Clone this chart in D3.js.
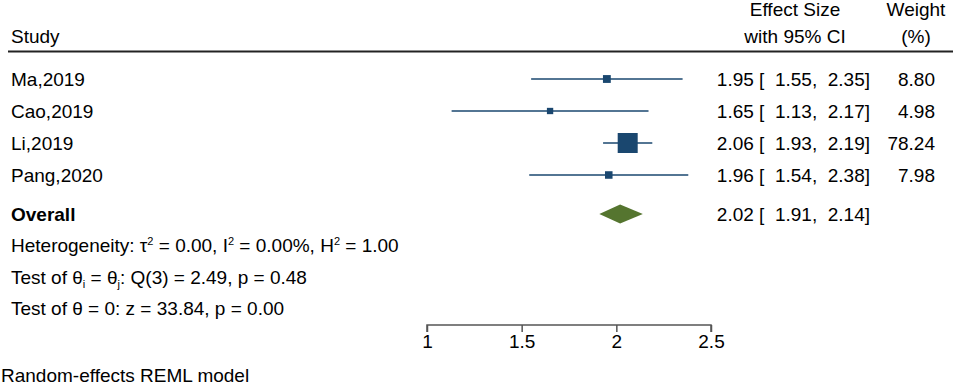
<!DOCTYPE html>
<html>
<head>
<meta charset="utf-8">
<script src="https://d3js.org/d3.v7.min.js"></script>
<style>
  body { margin: 0; background: #fff; }
  svg { font-family: Arial, "Liberation Sans", sans-serif; }
  text { white-space: pre; }
</style>
</head>
<body>
<div id="chart"></div>
<script>
const studies = ["Ma,2019", "Cao,2019", "Li,2019", "Pang,2020"]
const effect = [1.95, 1.65, 2.06, 1.96]
const lower = [1.55, 1.13, 1.93, 1.54]
const upper = [2.35, 2.17, 2.19, 2.38]
const weight = [8.80, 4.98, 78.24, 7.98]
const overall = [2.02, 1.91, 2.14]
const ticks = [1, 1.5, 2, 2.5]

const width = 957, height = 386
const fs = 19
const navy = "#1a476f", green = "#55752f"

const svg = d3.select("#chart").append("svg")
    .attr("width", width)
    .attr("height", height)

const x = d3.scaleLinear().domain([1, 2.5]).range([427, 711])
const y = d3.scaleLinear().domain([0, studies.length - 1]).range([79, 175])
const size = d3.scaleSqrt().domain([0, d3.max(weight)]).range([1.7, 20])
const yOverall = 214

// header
const head = svg.append("g").attr("font-size", fs)
head.append("text").attr("x", 11).attr("y", 43).text("Study")
head.append("text").attr("x", 795).attr("y", 16).attr("text-anchor", "middle").text("Effect Size")
head.append("text").attr("x", 795).attr("y", 43).attr("text-anchor", "middle").text("with 95% CI")
head.append("text").attr("x", 916).attr("y", 16).attr("text-anchor", "middle").text("Weight")
head.append("text").attr("x", 916).attr("y", 43).attr("text-anchor", "middle").text("(%)")
svg.append("line")
    .attr("x1", 8).attr("x2", 953).attr("y1", 51.5).attr("y2", 51.5)
    .attr("stroke", "#222").attr("stroke-width", 2)

const rows = svg.selectAll("g.row")
    .data(studies)
    .enter()
    .append("g")
        .attr("class", "row")
        .attr("transform", (d, i) => `translate(0,${y(i)})`)

rows.append("text")
    .attr("x", 11).attr("dy", "0.36em")
    .attr("font-size", fs)
    .text(d => d)

rows.append("line")
    .attr("x1", (d, i) => x(lower[i]))
    .attr("x2", (d, i) => x(upper[i]))
    .attr("stroke", navy).attr("stroke-width", 1.6)

rows.append("rect")
    .attr("x", (d, i) => x(effect[i]) - size(weight[i]) / 2)
    .attr("y", (d, i) => -size(weight[i]) / 2)
    .attr("width", (d, i) => size(weight[i]))
    .attr("height", (d, i) => size(weight[i]))
    .attr("fill", navy)

const fmt = d3.format(".2f")
rows.append("text")
    .attr("x", 870).attr("dy", "0.36em")
    .attr("text-anchor", "end")
    .attr("font-size", fs)
    .text((d, i) => `${fmt(effect[i])} [  ${fmt(lower[i])},  ${fmt(upper[i])}]`)

rows.append("text")
    .attr("x", 935).attr("dy", "0.36em")
    .attr("text-anchor", "end")
    .attr("font-size", fs)
    .text((d, i) => fmt(weight[i]))

// overall
const ov = svg.append("g").attr("transform", `translate(0,${yOverall})`)
ov.append("text")
    .attr("x", 11).attr("dy", "0.36em")
    .attr("font-size", fs).attr("font-weight", "bold")
    .text("Overall")
ov.append("path")
    .attr("d", `M${x(overall[1])},0 L${x(overall[0])},-9.5 L${x(overall[2])},0 L${x(overall[0])},9.5 Z`)
    .attr("fill", green)
ov.append("text")
    .attr("x", 870).attr("dy", "0.36em")
    .attr("text-anchor", "end")
    .attr("font-size", fs)
    .text(`${fmt(overall[0])} [  ${fmt(overall[1])},  ${fmt(overall[2])}]`)

// heterogeneity lines
const notes = svg.append("g").attr("font-size", fs)
const t1 = notes.append("text").attr("x", 11).attr("y", 252)
t1.append("tspan").text("Heterogeneity: τ")
t1.append("tspan").attr("font-size", 11).attr("dy", -7).text("2")
t1.append("tspan").attr("dy", 7).text(" = 0.00, I")
t1.append("tspan").attr("font-size", 11).attr("dy", -7).text("2")
t1.append("tspan").attr("dy", 7).text(" = 0.00%, H")
t1.append("tspan").attr("font-size", 11).attr("dy", -7).text("2")
t1.append("tspan").attr("dy", 7).text(" = 1.00")

const t2 = notes.append("text").attr("x", 11).attr("y", 284)
t2.append("tspan").text("Test of θ")
t2.append("tspan").attr("font-size", 11).attr("dy", 4).text("i")
t2.append("tspan").attr("dy", -4).text(" = θ")
t2.append("tspan").attr("font-size", 11).attr("dy", 4).text("j")
t2.append("tspan").attr("dy", -4).text(": Q(3) = 2.49, p = 0.48")

notes.append("text").attr("x", 11).attr("y", 315).text("Test of θ = 0: z = 33.84, p = 0.00")

// axis
const axis = svg.append("g")
    .attr("transform", "translate(0,325)")
    .call(d3.axisBottom(x).tickValues(ticks).tickSize(7).tickFormat(d3.format("")))
axis.select(".domain").attr("stroke", "#555").attr("stroke-width", 1.5)
    .attr("d", `M${x(1)},7V0H${x(2.5)}V7`)
axis.selectAll(".tick line").attr("stroke", "#555").attr("stroke-width", 1.5)
axis.selectAll(".tick text").attr("font-size", fs).attr("font-family", "Arial, 'Liberation Sans', sans-serif")
    .attr("fill", "#000").attr("y", 10)

svg.append("text").attr("x", 1).attr("y", 382).attr("font-size", fs)
    .text("Random-effects REML model")
</script>
</body>
</html>
